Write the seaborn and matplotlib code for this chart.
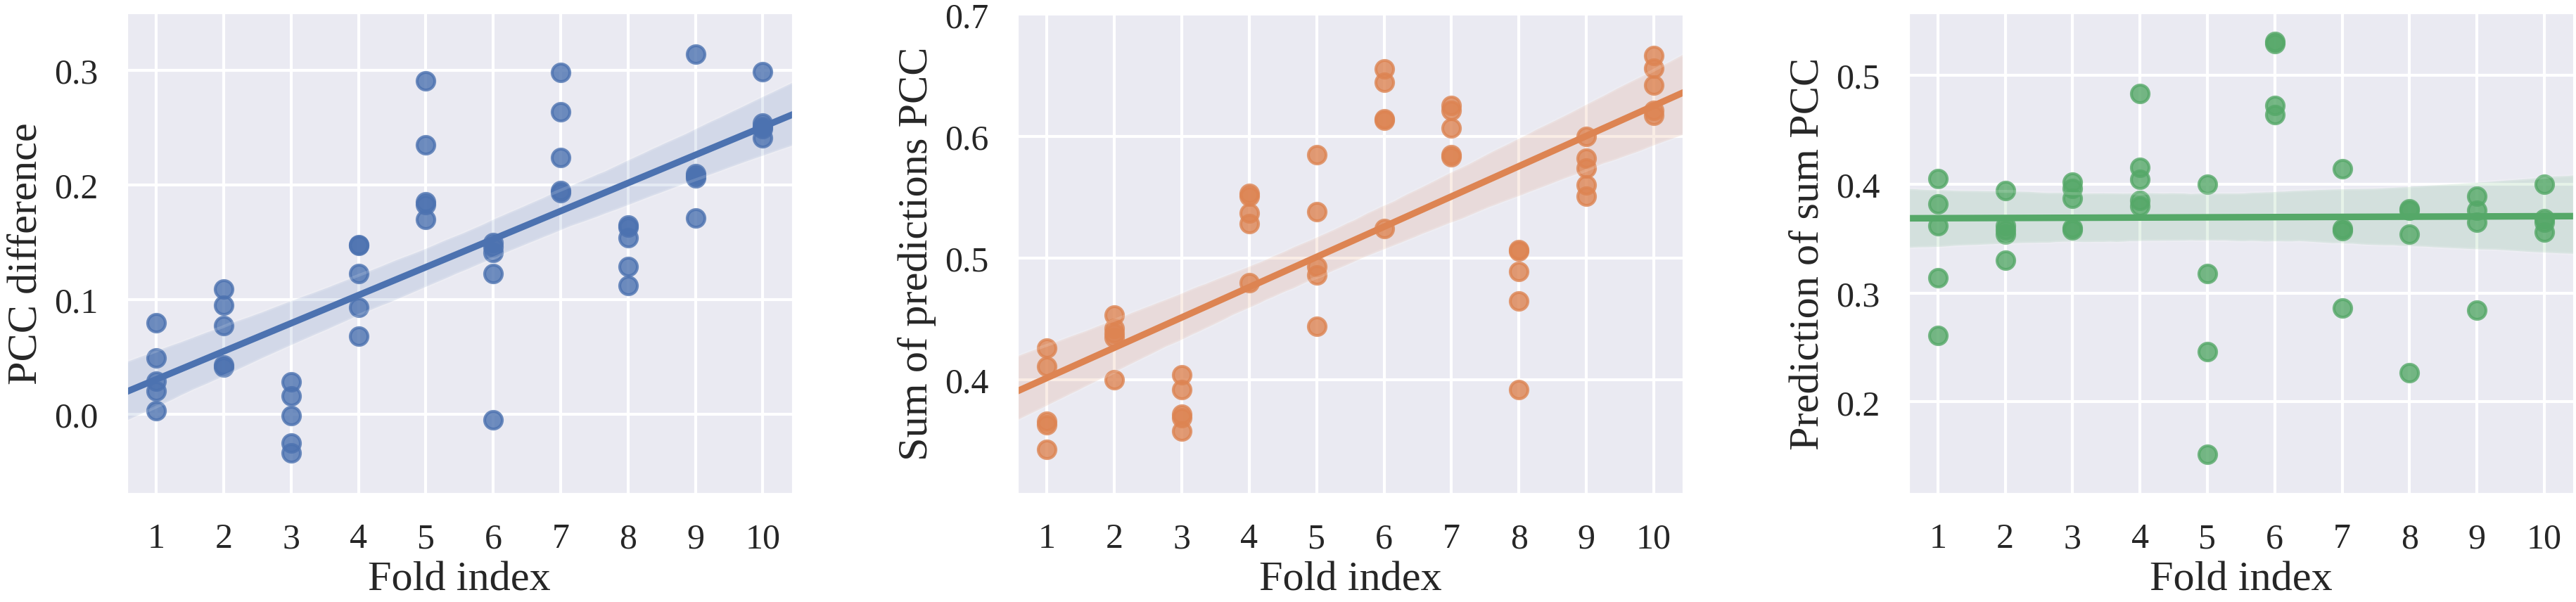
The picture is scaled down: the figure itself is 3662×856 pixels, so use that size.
import pandas as pd
import numpy as np
import matplotlib.pyplot as plt
import seaborn as sns

# Values per fold (index 1..10)
folds = [1, 2, 3, 4, 5, 6, 7, 8, 9, 10]

pcc_difference = [
    [0.080, 0.049, 0.029, 0.020, 0.003],
    [0.109, 0.095, 0.077, 0.043, 0.041],
    [0.028, 0.016, -0.001, -0.025, -0.034],
    [0.148, 0.147, 0.123, 0.093, 0.068],
    [0.291, 0.235, 0.185, 0.183, 0.170],
    [0.150, 0.146, 0.141, 0.123, -0.005],
    [0.298, 0.264, 0.224, 0.195, 0.193],
    [0.165, 0.163, 0.154, 0.129, 0.112],
    [0.314, 0.210, 0.208, 0.206, 0.171],
    [0.299, 0.254, 0.251, 0.249, 0.241],
]

sum_of_predictions = [
    [0.426, 0.411, 0.366, 0.363, 0.343],
    [0.453, 0.442, 0.438, 0.435, 0.400],
    [0.404, 0.392, 0.372, 0.369, 0.358],
    [0.553, 0.551, 0.537, 0.528, 0.480],
    [0.585, 0.538, 0.493, 0.486, 0.444],
    [0.655, 0.644, 0.614, 0.613, 0.524],
    [0.625, 0.621, 0.607, 0.585, 0.583],
    [0.507, 0.506, 0.489, 0.465, 0.392],
    [0.600, 0.582, 0.574, 0.560, 0.551],
    [0.666, 0.656, 0.642, 0.621, 0.617],
]

prediction_of_sum = [
    [0.405, 0.382, 0.362, 0.314, 0.261],
    [0.394, 0.362, 0.358, 0.354, 0.330],
    [0.402, 0.396, 0.387, 0.360, 0.358],
    [0.483, 0.415, 0.404, 0.385, 0.380],
    [0.400, 0.318, 0.246, 0.152],
    [0.531, 0.529, 0.472, 0.464],
    [0.414, 0.359, 0.357, 0.286],
    [0.377, 0.376, 0.354, 0.227],
    [0.389, 0.376, 0.365, 0.284],
    [0.400, 0.368, 0.365, 0.356],
]

y_labels = ["PCC difference", "Sum of predictions PCC", "Prediction of sum PCC"]
y_limits = [(-0.070, 0.351), (0.306, 0.702), (0.115, 0.558)]
y_ticks = [[0.0, 0.1, 0.2, 0.3], [0.4, 0.5, 0.6, 0.7], [0.2, 0.3, 0.4, 0.5]]


def to_frame(values):
    rows = [(f, v) for f, vals in zip(folds, values) for v in vals]
    return pd.DataFrame(rows, columns=["fold", "value"])


sns.set_theme(style="darkgrid", context="notebook")
plt.rcParams["font.family"] = ["Liberation Serif", "DejaVu Serif"]

palette = sns.color_palette("deep")
fig, axes = plt.subplots(1, 3, figsize=(3662 / 300, 857 / 300), dpi=300)
fig.subplots_adjust(left=0.0489, right=0.9995, bottom=0.1785, top=0.979, wspace=0.335)

for i, (ax, values) in enumerate(zip(axes, [pcc_difference, sum_of_predictions, prediction_of_sum])):
    df = to_frame(values)
    sns.regplot(data=df, x="fold", y="value", ax=ax, color=palette[i],
                truncate=False, seed=0)
    ax.set_xlim(0.55, 10.45)
    ax.set_xticks(folds)
    ax.set_yticks(y_ticks[i])
    ax.set_ylim(*y_limits[i])
    ax.set_xlabel("Fold index", fontsize=14.5, labelpad=2)
    ax.set_ylabel(y_labels[i], fontsize=14.5, labelpad=3)
    ax.tick_params(labelsize=12)

fig.savefig("out.png", dpi=300)
